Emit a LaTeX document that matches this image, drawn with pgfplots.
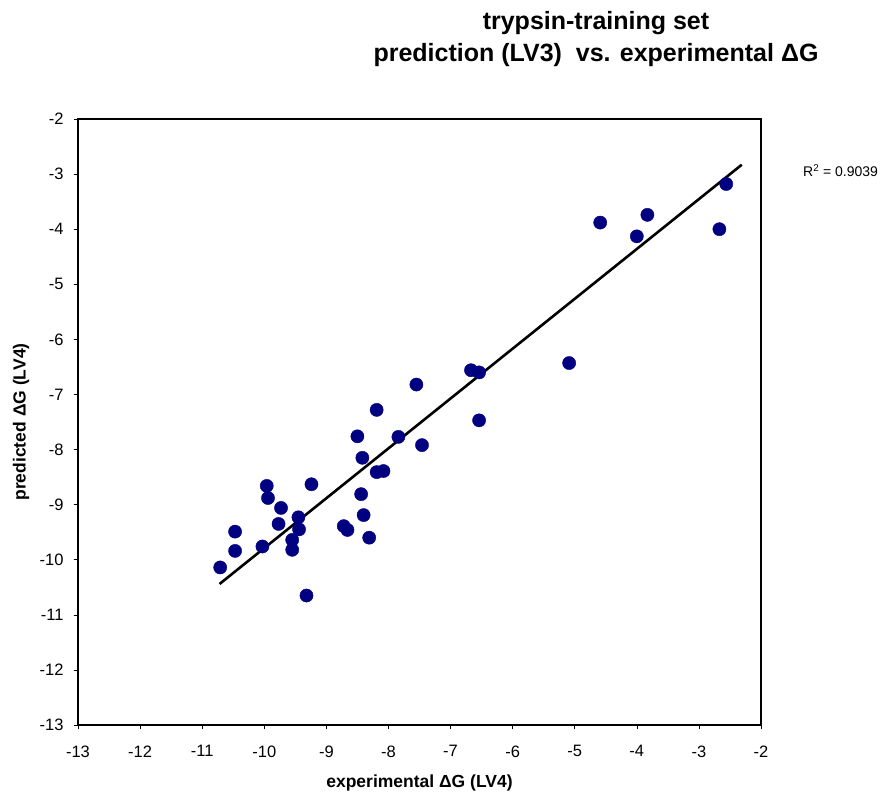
\documentclass[border=0pt]{standalone}
\usepackage{fontspec}
\setmainfont{Liberation Sans}
\usepackage{pgfplots}
\pgfplotsset{compat=1.18}
\definecolor{navydot}{RGB}{0,0,128}
\begin{document}
\begin{tikzpicture}
\useasboundingbox (-78bp,-71bp) rectangle (807bp,725bp);
\begin{axis}[
  at={(0,0)}, anchor=south west,
  scale only axis, width=683bp, height=606bp,
  xmin=-13, xmax=-2, ymin=-13, ymax=-2,
  xtick={-13,-12,...,-2}, ytick={-13,-12,...,-2},
  tick align=outside, xtick pos=left, ytick pos=left,
  major tick length=4bp,
  axis line style={line width=2.2bp},
  every tick/.style={black, line width=0.6bp},
  /pgf/number format/assume math mode=true,
  tick label style={font=\fontsize{16.5bp}{18bp}\selectfont},
  xticklabel style={yshift=-13bp},
  yticklabel style={xshift=-7bp},
  xlabel={experimental ΔG (LV4)},
  ylabel={predicted ΔG (LV4)},
  every axis x label/.style={at={(axis description cs:0.5,0)}, anchor=center, yshift=-58bp, font=\bfseries\fontsize{17.5bp}{19bp}\selectfont},
  every axis y label/.style={at={(axis description cs:0,0.5)}, anchor=center, xshift=-57bp, rotate=90, font=\bfseries\fontsize{17.5bp}{19bp}\selectfont},
  clip=false,
]
\addplot[only marks, mark=*, mark size=6.6bp, navydot, mark options={fill=navydot, draw=navydot}] coordinates {
(-10.71,-10.14) (-10.47,-9.49) (-10.47,-9.84) (-10.03,-9.76)
(-9.96,-8.66) (-9.94,-8.88) (-9.73,-9.06) (-9.77,-9.35)
(-9.45,-9.23) (-9.44,-9.45) (-9.55,-9.64) (-9.55,-9.82)
(-9.24,-8.63) (-9.32,-10.65) (-8.72,-9.39) (-8.66,-9.46)
(-8.31,-9.60) (-8.44,-8.81) (-8.40,-9.19) (-8.50,-7.76)
(-8.42,-8.15) (-8.19,-7.28) (-8.19,-8.41) (-8.08,-8.39)
(-7.84,-7.77) (-7.46,-7.92) (-7.55,-6.82) (-6.67,-6.56)
(-6.54,-6.60) (-6.54,-7.47) (-5.09,-6.43) (-4.59,-3.88)
(-4.00,-4.13) (-3.83,-3.74) (-2.67,-4.00) (-2.56,-3.18)
};
\addplot[black, line width=2.6bp] coordinates {(-10.72,-10.44) (-2.31,-2.83)};
\end{axis}
\node[font=\bfseries\fontsize{25bp}{30bp}\selectfont, anchor=base] at (518bp,695bp) {trypsin-training set};
\node[font=\bfseries\fontsize{25bp}{30bp}\selectfont, anchor=base] at (518bp,663bp) {prediction (LV3)\ \ vs. experimental ΔG};
\node[font=\fontsize{14bp}{16bp}\selectfont, anchor=base west, inner sep=0pt] at (725bp,548bp) {R\textsuperscript{2} = 0.9039};
\end{tikzpicture}
\end{document}
